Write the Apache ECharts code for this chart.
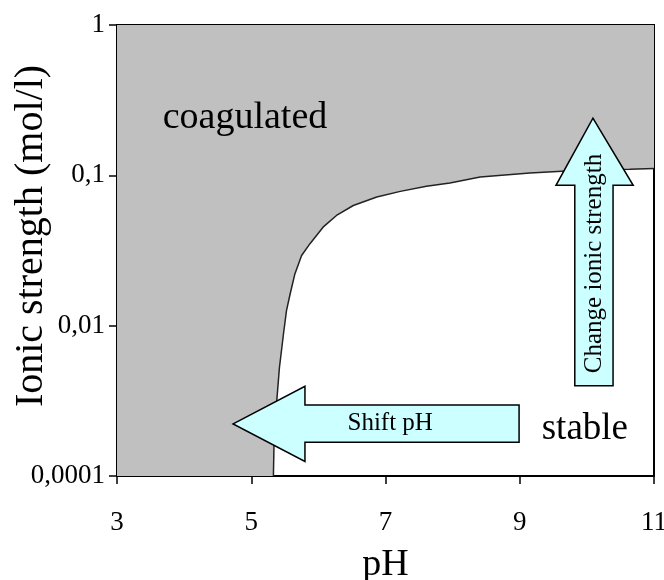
<!DOCTYPE html>
<html>
<head>
<meta charset="utf-8">
<script src="https://cdn.jsdelivr.net/npm/echarts@6/dist/echarts.min.js"></script>
<style>
html,body{margin:0;padding:0;background:#fff;}
#chart{width:664px;height:580px;}
</style>
</head>
<body>
<div id="chart"></div>
<script>
// Boundary between coagulated and stable regions
const boundaryPH = [5.33, 5.34, 5.38, 5.42, 5.48, 5.525, 5.58, 5.65, 5.75, 5.875, 6.07, 6.27, 6.52, 6.87, 7.22, 7.61, 7.96, 8.41, 9.15, 9.90, 10.64, 11];
const boundaryIonic = [0.001, 0.00171, 0.00316, 0.00527, 0.0088, 0.0126, 0.0163, 0.0221, 0.0293, 0.0351, 0.0452, 0.0541, 0.063, 0.0717, 0.0782, 0.0845, 0.0889, 0.0975, 0.1035, 0.108, 0.1096, 0.111];
const xTickLabels = ['3', '5', '7', '9', '11'];
const yTickValues = [0.001, 0.01, 0.1, 1];
const yTickLabels = ['0,0001', '0,01', '0,1', '1'];

const FONT = "'Liberation Serif', 'Times New Roman', serif";
const X_MIN = 3, X_MAX = 11, Y_MIN = 0.001, Y_MAX = 1;

const boundaryData = boundaryPH.map((p, i) => [p, boundaryIonic[i]]);

// annotation geometry in data coordinates
const shiftArrow = [[4.73, 0.00222], [5.80, 0.00395], [5.80, 0.00297], [8.99, 0.00297], [8.99, 0.00168], [5.80, 0.00168], [5.80, 0.00125]];
const upArrow = [[10.09, 0.24], [10.69, 0.0858], [10.39, 0.0858], [10.39, 0.00398], [9.82, 0.00398], [9.82, 0.0858], [9.54, 0.0858]];

const chart = echarts.init(document.getElementById('chart'), null, {renderer: 'canvas'});

function yLabel(v) {
  const k = Math.round(Math.log10(v));
  for (let i = 0; i < yTickValues.length; i++) {
    if (Math.round(Math.log10(yTickValues[i])) === k) return yTickLabels[i];
  }
  return '';
}

chart.setOption({
  animation: false,
  backgroundColor: '#fff',
  grid: {
    left: 117, right: 10, top: 25, bottom: 104,
    show: true, backgroundColor: '#fff', borderColor: '#000', borderWidth: 2,
    containLabel: false, outerBoundsMode: 'none'
  },
  graphic: [
    {
      type: 'text', x: 31, y: 236, rotation: Math.PI / 2, silent: true,
      style: {text: 'Ionic strength (mol/l)', x: 0, y: 0, fill: '#000', fontFamily: FONT, fontSize: 40, align: 'center', verticalAlign: 'middle'}
    }
  ],
  xAxis: {
    type: 'value', min: X_MIN, max: X_MAX, interval: 2,
    name: 'pH', nameLocation: 'middle', nameGap: 70,
    nameTextStyle: {fontFamily: FONT, fontSize: 38, color: '#000'},
    axisLine: {show: true, onZero: false, lineStyle: {color: '#000', width: 2}},
    axisTick: {show: true, inside: false, length: 8, lineStyle: {color: '#000', width: 1.5}},
    axisLabel: {
      margin: 33, fontFamily: FONT, fontSize: 27, color: '#000',
      formatter: function (v) { return xTickLabels[Math.round((v - X_MIN) / 2)] || ''; }
    },
    splitLine: {show: false}
  },
  yAxis: {
    type: 'log', logBase: 10, min: Y_MIN, max: Y_MAX,
    axisLine: {show: true, onZero: false, lineStyle: {color: '#000', width: 2}},
    axisTick: {show: true, inside: false, length: 8, lineStyle: {color: '#000', width: 1.5}},
    axisLabel: {margin: 12, fontFamily: FONT, fontSize: 27, color: '#000', formatter: yLabel},
    splitLine: {show: false},
    minorTick: {show: false}
  },
  series: [
    {
      // gray "coagulated" region
      type: 'custom',
      coordinateSystem: 'cartesian2d',
      clip: true,
      silent: true,
      z: 1,
      data: [[X_MIN, Y_MAX]],
      renderItem: function (params, api) {
        const pts = [api.coord([X_MIN, Y_MIN])];
        boundaryData.forEach(d => pts.push(api.coord(d)));
        pts.push(api.coord([X_MAX, Y_MAX]));
        pts.push(api.coord([X_MIN, Y_MAX]));
        return {type: 'polygon', shape: {points: pts}, style: {fill: '#c0c0c0', stroke: null}};
      }
    },
    {
      type: 'line',
      data: boundaryData,
      showSymbol: false,
      symbol: 'none',
      silent: true,
      z: 2,
      lineStyle: {color: '#222', width: 1.5}
    },
    {
      // annotations: arrows and region labels
      type: 'custom',
      coordinateSystem: 'cartesian2d',
      clip: false,
      silent: true,
      z: 5,
      data: [[X_MIN, Y_MAX]],
      renderItem: function (params, api) {
        const arrowStyle = {fill: '#ccffff', stroke: '#000', lineWidth: 1.5};
        const c1 = api.coord([7.07, 0.00222]);
        const c2 = api.coord([10.12, 0.0259]);
        const c3 = api.coord([4.907, 0.24]);
        const c4 = api.coord([9.97, 0.00205]);
        return {
          type: 'group',
          children: [
            {type: 'polygon', shape: {points: shiftArrow.map(p => api.coord(p))}, style: arrowStyle},
            {type: 'polygon', shape: {points: upArrow.map(p => api.coord(p))}, style: arrowStyle},
            {type: 'text', x: c1[0], y: c1[1], style: {text: 'Shift pH', x: 0, y: 0, fill: '#000', fontFamily: FONT, fontSize: 25, align: 'center', verticalAlign: 'middle'}},
            {type: 'text', x: c2[0], y: c2[1], rotation: Math.PI / 2, style: {text: 'Change ionic strength', x: 0, y: 0, fill: '#000', fontFamily: FONT, fontSize: 25, align: 'center', verticalAlign: 'middle'}},
            {type: 'text', x: c3[0], y: c3[1], style: {text: 'coagulated', x: 0, y: 0, fill: '#000', fontFamily: FONT, fontSize: 38, align: 'center', verticalAlign: 'middle'}},
            {type: 'text', x: c4[0], y: c4[1], style: {text: 'stable', x: 0, y: 0, fill: '#000', fontFamily: FONT, fontSize: 37, align: 'center', verticalAlign: 'middle'}}
          ]
        };
      }
    }
  ]
});
</script>
</body>
</html>
